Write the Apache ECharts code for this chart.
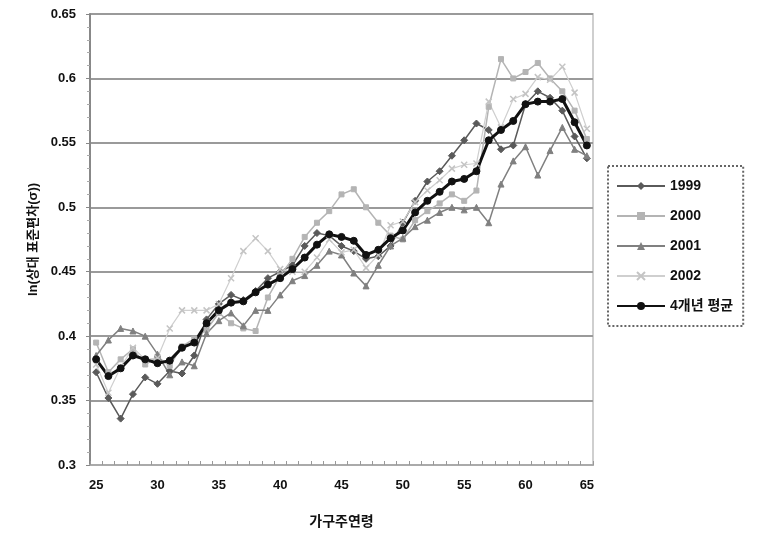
<!DOCTYPE html>
<html>
<head>
<meta charset="utf-8">
<script src="https://cdn.jsdelivr.net/npm/echarts@6/dist/echarts.min.js"></script>
<style>html,body{margin:0;padding:0;background:#fff}#c{width:763px;height:543px}</style>
</head>
<body>
<div id="c"></div>
<script>
const ages = [25,26,27,28,29,30,31,32,33,34,35,36,37,38,39,40,41,42,43,44,45,46,47,48,49,50,51,52,53,54,55,56,57,58,59,60,61,62,63,64,65];
const y1999 = [0.372,0.352,0.336,0.355,0.368,0.363,0.373,0.371,0.385,0.413,0.425,0.432,0.428,0.435,0.445,0.45,0.455,0.47,0.48,0.478,0.47,0.466,0.46,0.462,0.47,0.488,0.505,0.52,0.528,0.54,0.552,0.565,0.56,0.545,0.548,0.58,0.59,0.585,0.575,0.555,0.538];
const y2000 = [0.395,0.372,0.382,0.39,0.378,0.384,0.377,0.392,0.398,0.405,0.418,0.41,0.406,0.404,0.43,0.447,0.46,0.477,0.488,0.497,0.51,0.514,0.5,0.488,0.478,0.475,0.49,0.497,0.503,0.51,0.505,0.513,0.578,0.615,0.6,0.605,0.612,0.6,0.59,0.575,0.553];
const y2001 = [0.385,0.397,0.406,0.404,0.4,0.386,0.37,0.38,0.377,0.402,0.412,0.418,0.408,0.42,0.42,0.432,0.443,0.447,0.455,0.466,0.463,0.449,0.439,0.455,0.47,0.476,0.485,0.49,0.496,0.5,0.498,0.5,0.488,0.518,0.536,0.547,0.525,0.544,0.562,0.545,0.54];
const y2002 = [0.378,0.356,0.376,0.391,0.382,0.383,0.406,0.42,0.42,0.42,0.425,0.445,0.466,0.476,0.466,0.452,0.45,0.45,0.461,0.475,0.465,0.467,0.453,0.463,0.486,0.489,0.504,0.513,0.521,0.53,0.533,0.534,0.582,0.562,0.584,0.588,0.601,0.599,0.609,0.589,0.561];
const yAvg = [0.382,0.369,0.375,0.385,0.382,0.379,0.381,0.391,0.395,0.41,0.42,0.426,0.427,0.434,0.44,0.445,0.452,0.461,0.471,0.479,0.477,0.474,0.463,0.467,0.476,0.482,0.496,0.505,0.512,0.52,0.522,0.528,0.552,0.56,0.567,0.58,0.582,0.582,0.584,0.566,0.548];
const yTicks = [0.3,0.35,0.4,0.45,0.5,0.55,0.6,0.65];
const seriesNames = ['1999','2000','2001','2002','4개년 평균'];

const crossPath = 'path://M0,0L10,10M10,0L0,10';
const font = 'Arial, "Liberation Sans", "Noto Sans CJK KR", sans-serif';
const chart = echarts.init(document.getElementById('c'), null, {renderer:'canvas'});
function s(name, data, color, width, symbol, size, extra) {
  return Object.assign({
    name, type:'line', data, symbol, symbolSize:size, showSymbol:true,
    lineStyle:{color, width}, itemStyle:{color, borderColor:color},
    emphasis:{disabled:true}, animation:false
  }, extra||{});
}
chart.setOption({
  animation:false,
  grid:{left:90, right:170, top:14, bottom:78, show:true, borderColor:'#cfcfcf', borderWidth:2, backgroundColor:'#fff'},
  legend:{
    orient:'vertical', left:608, top:166,
    padding:[13,10,13,8], itemGap:16, itemWidth:48, itemHeight:10,
    borderColor:'#666', borderWidth:2, borderType:'dotted',
    textStyle:{fontFamily:font, fontSize:14, fontWeight:'bold', color:'#111'},
    data:seriesNames
  },
  xAxis:{
    type:'category', data:ages, boundaryGap:true,
    name:'가구주연령', nameLocation:'middle', nameGap:50,
    nameTextStyle:{fontFamily:font, fontSize:14, fontWeight:'bold', color:'#111'},
    axisLine:{lineStyle:{color:'#aaa', width:2}},
    axisTick:{show:true, inside:true, length:4, interval:0, lineStyle:{color:'#999'}},
    axisLabel:{interval:4, fontFamily:font, fontSize:13, fontWeight:'bold', color:'#111', margin:14},
    splitLine:{show:false}
  },
  yAxis:{
    type:'value', min:yTicks[0], max:yTicks[yTicks.length-1], interval:0.05,
    name:'ln(상대 표준편차(σ))', nameLocation:'middle', nameGap:47, nameRotate:90,
    nameTextStyle:{fontFamily:font, fontSize:13, fontWeight:'bold', color:'#111'},
    axisLine:{show:true, lineStyle:{color:'#888', width:2}},
    axisTick:{show:true, length:4, lineStyle:{color:'#888'}},
    minorTick:{show:true, splitNumber:5, length:3, lineStyle:{color:'#aaa'}},
    axisLabel:{fontFamily:font, fontSize:13, fontWeight:'bold', color:'#111', margin:14,
      formatter:v=>String(Math.round(v*100)/100)},
    splitLine:{show:true, lineStyle:{color:'#9a9a9a', width:2}}
  },
  series:[
    s(seriesNames[0], y1999, '#5a5a5a', 1.5, 'diamond', 7),
    s(seriesNames[1], y2000, '#b4b4b4', 1.5, 'rect', 5),
    s(seriesNames[2], y2001, '#808080', 1.5, 'triangle', 6),
    s(seriesNames[3], y2002, '#cfcfcf', 1.2, crossPath, 6, {itemStyle:{color:'#c4c4c4', borderColor:'#c4c4c4', borderWidth:1.5}}),
    s(seriesNames[4], yAvg, '#111', 3, 'circle', 7)
  ]
});
</script>
</body>
</html>
